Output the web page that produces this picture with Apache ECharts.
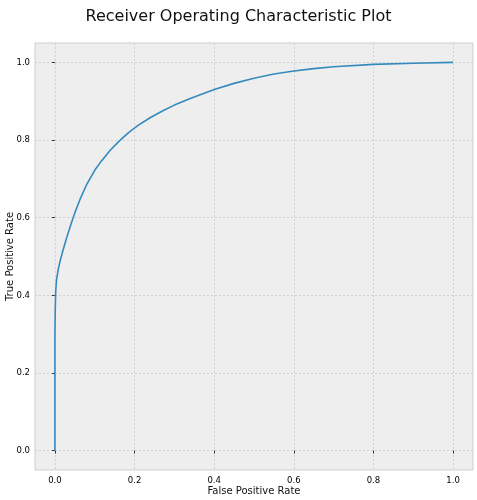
<!DOCTYPE html>
<html>
<head>
<meta charset="utf-8">
<script src="https://cdn.jsdelivr.net/npm/echarts@6/dist/echarts.min.js"></script>
<style>
  html, body { margin: 0; padding: 0; background: #fff; }
  #main { width: 477px; height: 500px; }
</style>
</head>
<body>
<div id="main"></div>
<script>
// ROC 曲线数据
var fpr = [0, 0, 0.001, 0.002, 0.004, 0.008, 0.013, 0.02, 0.03, 0.042, 0.052, 0.063, 0.08, 0.1, 0.116, 0.14, 0.162, 0.185, 0.208, 0.24, 0.27, 0.3, 0.34, 0.4, 0.45, 0.5, 0.55, 0.6, 0.65, 0.7, 0.8, 0.9, 1.0];
var tpr = [0, 0.3, 0.37, 0.41, 0.44, 0.465, 0.488, 0.515, 0.55, 0.588, 0.618, 0.647, 0.686, 0.722, 0.745, 0.775, 0.798, 0.819, 0.837, 0.858, 0.875, 0.89, 0.907, 0.93, 0.946, 0.959, 0.97, 0.978, 0.984, 0.989, 0.995, 0.998, 1.0];
var tickValues = [0, 0.2, 0.4, 0.6, 0.8, 1.0];

var rocData = [];
for (var i = 0; i < fpr.length; i++) {
	rocData.push([fpr[i], tpr[i]]);
}

var rocChart = echarts.init(document.getElementById("main"));
var axisCommon = {
	type: 'value',
	min: -0.05,
	max: 1.05,
	nameLocation: 'middle',
	nameMoveOverlap: false,
	nameTextStyle: { color: '#111', fontSize: 10, fontFamily: 'DejaVu Sans' },
	axisLine: { show: false },
	axisTick: {
		show: true,
		customValues: tickValues,
		length: 3,
		lineStyle: { color: '#333', width: 1 }
	},
	axisLabel: {
		customValues: tickValues,
		color: '#000',
		fontSize: 8.5,
		fontFamily: 'DejaVu Sans',
		formatter: function (v) { return v.toFixed(1); }
	},
	splitLine: {
		show: true,
		customValues: tickValues,
		lineStyle: { color: '#c8c8c8', type: [2, 2], width: 0.8 }
	}
};

var rocOpt = {
	animation: false,
	title: {
		text: 'Receiver Operating Characteristic Plot',
		left: 'center',
		top: 4,
		textStyle: { color: '#111', fontSize: 16, fontWeight: 'normal', fontFamily: 'DejaVu Sans' }
	},
	grid: {
		left: 35,
		right: 4,
		top: 43,
		bottom: 30,
		containLabel: false,
		outerBoundsMode: 'none',
		show: true,
		backgroundColor: '#eeeeee',
		borderColor: '#cfcfcf',
		borderWidth: 1
	},
	xAxis: echarts.util.merge({ name: 'False Positive Rate', nameGap: 16, axisLabel: { margin: 6 } }, axisCommon),
	yAxis: echarts.util.merge({ name: 'True Positive Rate', nameGap: 20, axisLabel: { margin: 5 } }, axisCommon),
	series: [{
		type: 'line',
		data: rocData,
		showSymbol: false,
		lineStyle: { color: '#348ABD', width: 1.6 },
		itemStyle: { color: '#348ABD' }
	}]
};
rocChart.setOption(rocOpt);
</script>
</body>
</html>
